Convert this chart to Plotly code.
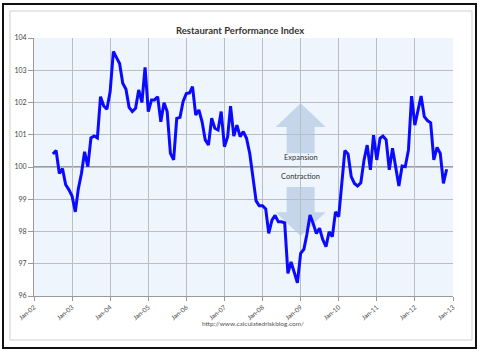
import pandas as pd
import plotly.graph_objects as go

# Restaurant Performance Index, monthly, starting Jul 2002
start_month = "2002-07-01"
rpi_values = [
    100.40, 100.51, 99.80, 99.95, 99.45, 99.30, 99.10, 98.61, 99.30, 99.80,
    100.47, 100.01, 100.90, 100.96, 100.90, 102.18, 101.89, 101.79, 102.33, 103.58,
    103.40, 103.21, 102.60, 102.41, 101.85, 101.72, 101.82, 102.39, 102.00, 103.09,
    101.72, 102.08, 102.08, 102.18, 101.40, 101.99, 101.72, 100.42, 100.22, 101.51,
    101.54, 102.03, 102.28, 102.30, 102.49, 101.61, 101.77, 101.40, 100.84, 100.68,
    101.51, 101.20, 101.15, 101.72, 100.63, 100.94, 101.89, 100.96, 101.30, 100.94,
    101.10, 100.89, 100.42, 99.70, 98.95, 98.80, 98.80, 98.70, 97.94, 98.35,
    98.50, 98.30, 98.30, 98.27, 96.70, 97.06, 96.70, 96.41, 97.32, 97.45,
    97.90, 98.51, 98.25, 97.94, 98.10, 97.75, 97.53, 97.99, 97.84, 98.61,
    98.46, 99.49, 100.51, 100.40, 99.70, 99.49, 99.41, 99.51, 100.22, 100.68,
    99.91, 100.99, 100.22, 100.89, 100.96, 100.84, 99.91, 100.58, 100.01, 99.41,
    100.03, 100.01, 100.53, 102.20, 101.30, 101.82, 102.20, 101.56, 101.44, 101.37,
    100.22, 100.61, 100.42, 99.49, 99.93,
]
dates = pd.date_range(start_month, periods=len(rpi_values), freq="MS")

y_ticks = [96, 97, 98, 99, 100, 101, 102, 103, 104]
x_range = ["2002-01-01", "2013-01-01"]
title_text = "Restaurant Performance Index"
source_text = "http://www.calculatedriskblog.com/"
label_up = "Expansion"
label_down = "Contraction"

FONT = "Lato, 'Liberation Sans', Arial, sans-serif"

fig = go.Figure()
fig.add_trace(go.Scatter(
    x=dates, y=rpi_values, mode="lines",
    line=dict(color="#0a0aff", width=3),
    hoverinfo="skip", showlegend=False,
))

W, H = 480, 352
L, R, T, B = 34, 27, 38, 56
pw, ph = W - L - R, H - T - B


def px_x(p):
    return (p - L) / pw


def px_y(p):
    return (H - B - p) / ph


shapes = []
# outer black border and inner grey frame
shapes.append(dict(type="rect", xref="paper", yref="paper",
                   x0=px_x(3), x1=px_x(476), y0=px_y(348), y1=px_y(4),
                   line=dict(color="#111111", width=2), layer="below"))
shapes.append(dict(type="rect", xref="paper", yref="paper",
                   x0=px_x(10), x1=px_x(472), y0=px_y(340), y1=px_y(11),
                   line=dict(color="#cfcfcf", width=1), layer="below"))

# expansion / contraction arrows (paper x, data y)
cx = 7 / 11
hw, bw = 25 / pw, 14 / pw
up = (f"M {cx} 101.98 L {cx + hw} 101.24 L {cx + bw} 101.24 L {cx + bw} 100.43 "
      f"L {cx - bw} 100.43 L {cx - bw} 101.24 L {cx - hw} 101.24 Z")
down = (f"M {cx} 97.86 L {cx + hw} 98.60 L {cx + bw} 98.60 L {cx + bw} 99.38 "
        f"L {cx - bw} 99.38 L {cx - bw} 98.60 L {cx - hw} 98.60 Z")
for pth in (up, down):
    shapes.append(dict(type="path", xref="paper", yref="y", path=pth,
                       fillcolor="#c5d5ea", line=dict(width=0), layer="below"))
# emphasised 100 line
shapes.append(dict(type="line", xref="paper", yref="y", x0=0, x1=1, y0=100, y1=100,
                   line=dict(color="#7f7f7f", width=1.3), layer="below"))

annotations = [
    dict(text=label_up, xref="paper", yref="y", x=cx, y=100.3, showarrow=False,
         font=dict(family=FONT, size=7.5, color="#333333")),
    dict(text=label_down, xref="paper", yref="y", x=cx, y=99.72, showarrow=False,
         font=dict(family=FONT, size=7.5, color="#333333")),
    dict(text=source_text, xref="paper", yref="paper", x=px_x(253), y=px_y(329),
         showarrow=False, font=dict(family=FONT, size=6.5, color="#555555")),
    dict(text="<b>" + title_text + "</b>", xref="paper", yref="paper",
         x=px_x(240), y=px_y(23), showarrow=False,
         font=dict(family=FONT, size=9.5, color="#333333")),
]

fig.update_layout(
    width=W, height=H,
    margin=dict(l=L, r=R, t=T, b=B, pad=0),
    paper_bgcolor="white",
    plot_bgcolor="#eef5fc",
    shapes=shapes,
    annotations=annotations,
    font=dict(family=FONT, color="#444444"),
    xaxis=dict(
        type="date", range=x_range, tick0="2002-01-01", dtick="M12",
        tickformat="%b-%y", tickangle=-40,
        tickfont=dict(size=6.5, color="#444444"),
        showgrid=True, gridcolor="#b9bec4", gridwidth=1,
        ticks="outside", ticklen=4, tickcolor="#999999",
        showline=True, linecolor="#999999", linewidth=1,
        zeroline=False, fixedrange=True,
    ),
    yaxis=dict(
        range=[96, 104], tickvals=y_ticks,
        tickfont=dict(size=7, color="#444444"),
        showgrid=True, gridcolor="#b9bec4", gridwidth=1,
        ticks="outside", ticklen=5, tickcolor="#999999",
        showline=True, linecolor="#999999", linewidth=1,
        zeroline=False, fixedrange=True,
    ),
)

fig.write_html("out.html")
